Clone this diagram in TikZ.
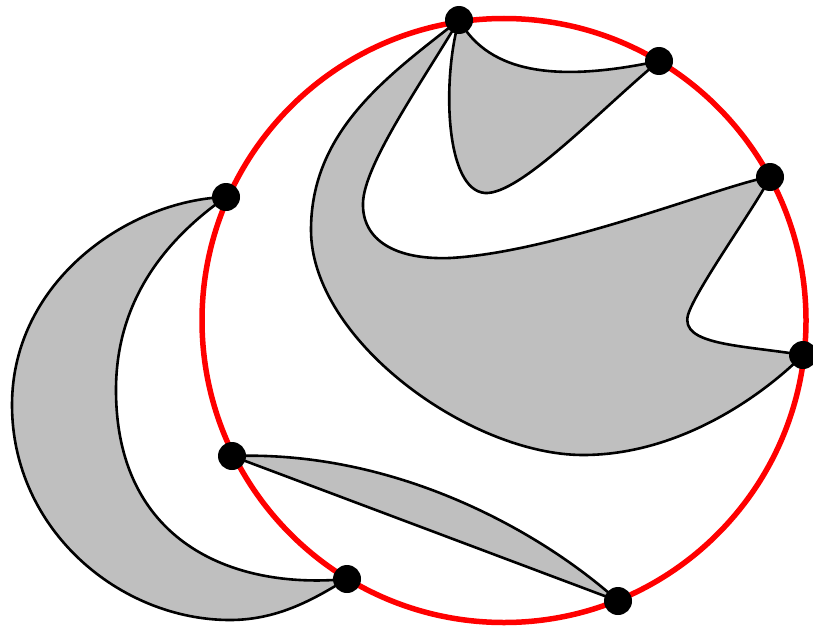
\documentclass[tikz,border=0pt]{standalone}
\begin{document}
\begin{tikzpicture}[x=1pt,y=-1pt,
  dot/.style={circle,fill=black,inner sep=0pt,minimum size=28pt},
  region/.style={fill=gray!50,draw=black,line width=2.6pt,line join=round},
  rim/.style={draw=red,line width=5.5pt}]
\useasboundingbox (0,0) rectangle (813,626);
\coordinate (O) at (504,320.5);
\draw[rim] (O) circle (302pt);
\coordinate (a) at (459,20);
\coordinate (b) at (659,61);
\coordinate (c) at (770,177);
\coordinate (d) at (803,355);
\coordinate (e) at (226,197);
\coordinate (f) at (347,579);
\coordinate (g) at (232,456);
\coordinate (h) at (618,601);
% petal
\draw[region] (a) .. controls (490,75) and (560,82) .. (b)
  .. controls (599,111) and (520,195) .. (485,193)
  .. controls (445,190) and (442,80) .. (a) -- cycle;
% big shape
\draw[region] (a) .. controls (389,75) and (311,130) .. (311,230)
  .. controls (311,340) and (470,455) .. (583,455)
  .. controls (680,455) and (763,395) .. (d)
  .. controls (740,345) and (680,345) .. (688,315)
  .. controls (695,290) and (760,200) .. (c)
  .. controls (730,182) and (560,252) .. (450,258)
  .. controls (395,260) and (362,240) .. (363,203)
  .. controls (364,165) and (420,85) .. (a) -- cycle;
% crescent
\draw[region] (e) .. controls (130,200) and (12,280) .. (12,405)
  .. controls (12,530) and (120,620) .. (230,620)
  .. controls (280,620) and (317,597) .. (f)
  .. controls (230,590) and (116,540) .. (116,390)
  .. controls (116,300) and (166,239) .. (e) -- cycle;
% lens
\draw[region] (g) .. controls (400,450) and (545,535) .. (h) -- (g) -- cycle;
\node[dot] (A) at (a) {};
\node[dot] (B) at (b) {};
\node[dot] (C) at (c) {};
\node[dot] (D) at (d) {};
\node[dot] (E) at (e) {};
\node[dot] (F) at (f) {};
\node[dot] (G) at (g) {};
\node[dot] (H) at (h) {};
\end{tikzpicture}
\end{document}
